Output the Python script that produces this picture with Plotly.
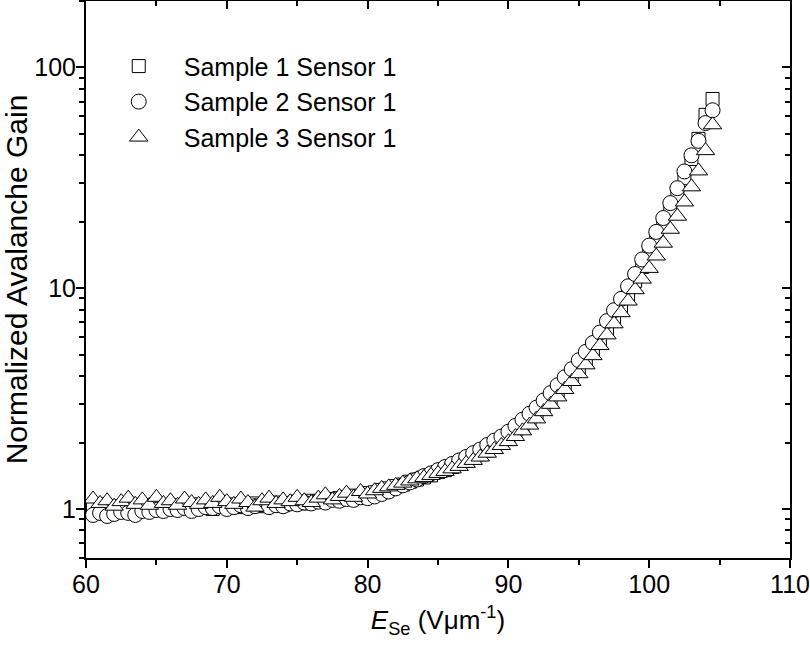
import plotly.graph_objects as go

# Electric field in a-Se (V/um)
field = [60.5, 61.0, 61.5, 62.0, 62.5, 63.0, 63.5, 64.0, 64.5, 65.0,
         65.5, 66.0, 66.5, 67.0, 67.5, 68.0, 68.5, 69.0, 69.5, 70.0,
         70.5, 71.0, 71.5, 72.0, 72.5, 73.0, 73.5, 74.0, 74.5, 75.0,
         75.5, 76.0, 76.5, 77.0, 77.5, 78.0, 78.5, 79.0, 79.5, 80.0,
         80.5, 81.0, 81.5, 82.0, 82.5, 83.0, 83.5, 84.0, 84.5, 85.0,
         85.5, 86.0, 86.5, 87.0, 87.5, 88.0, 88.5, 89.0, 89.5, 90.0,
         90.5, 91.0, 91.5, 92.0, 92.5, 93.0, 93.5, 94.0, 94.5, 95.0,
         95.5, 96.0, 96.5, 97.0, 97.5, 98.0, 98.5, 99.0, 99.5, 100.0,
         100.5, 101.0, 101.5, 102.0, 102.5, 103.0, 103.5, 104.0, 104.5]

gain_s1 = [1.02, 1.05, 0.99, 1.03, 1.00, 1.04, 1.01, 0.99, 1.03, 1.02,
           1.00, 1.04, 1.02, 1.01, 1.05, 1.02, 1.03, 1.00, 1.04, 1.03,
           1.05, 1.02, 1.04, 1.06, 1.03, 1.05, 1.07, 1.04, 1.06, 1.08,
           1.06, 1.09, 1.08, 1.11, 1.10, 1.12, 1.13, 1.15, 1.14, 1.18,
           1.19, 1.22, 1.24, 1.27, 1.29, 1.33, 1.36, 1.39, 1.42, 1.47,
           1.50, 1.55, 1.60, 1.65, 1.71, 1.77, 1.84, 1.92, 2.00, 2.08,
           2.22, 2.36, 2.50, 2.66, 2.88, 3.12, 3.38, 3.65, 3.98, 4.36,
           4.76, 5.22, 5.84, 6.55, 7.35, 8.28, 9.40, 10.8, 12.5, 14.5,
           16.8, 19.4, 22.6, 26.4, 31.5, 38.5, 47.5, 61.0, 72.0]

gain_s2 = [0.94, 0.96, 0.93, 0.95, 0.97, 0.96, 0.94, 0.98, 0.97, 0.99,
           0.98, 1.00, 0.99, 1.01, 0.98, 1.00, 1.02, 1.01, 1.03, 1.00,
           1.02, 1.04, 1.01, 1.03, 1.05, 1.02, 1.04, 1.03, 1.06, 1.05,
           1.07, 1.06, 1.08, 1.07, 1.10, 1.09, 1.11, 1.10, 1.13, 1.12,
           1.14, 1.17, 1.20, 1.24, 1.28, 1.32, 1.36, 1.41, 1.45, 1.50,
           1.55, 1.60, 1.66, 1.72, 1.79, 1.86, 1.95, 2.04, 2.13, 2.24,
           2.38, 2.54, 2.70, 2.88, 3.10, 3.35, 3.64, 3.95, 4.30, 4.72,
           5.15, 5.65, 6.30, 7.10, 7.95, 8.95, 10.2, 11.6, 13.5, 15.6,
           18.0, 20.8, 24.3, 28.4, 33.8, 40.0, 46.5, 56.0, 64.0]

gain_s3 = [1.11, 1.06, 1.09, 1.03, 1.08, 1.12, 1.05, 1.10, 1.04, 1.13,
           1.06, 1.09, 1.04, 1.11, 1.07, 1.05, 1.10, 1.06, 1.13, 1.08,
           1.05, 1.11, 1.07, 1.02, 1.09, 1.12, 1.06, 1.10, 1.08, 1.13,
           1.09, 1.07, 1.12, 1.16, 1.10, 1.14, 1.18, 1.13, 1.20, 1.17,
           1.21, 1.24, 1.26, 1.28, 1.31, 1.34, 1.37, 1.39, 1.42, 1.45,
           1.48, 1.52, 1.56, 1.61, 1.66, 1.72, 1.79, 1.86, 1.94, 2.02,
           2.13, 2.26, 2.40, 2.56, 2.76, 2.98, 3.22, 3.48, 3.78, 4.10,
           4.50, 4.95, 5.50, 6.15, 6.90, 7.75, 8.75, 9.85, 11.0, 12.3,
           14.0, 16.0, 18.5, 21.2, 24.6, 28.8, 34.0, 42.0, 55.0]

series_names = ["Sample 1 Sensor 1", "Sample 2 Sensor 1", "Sample 3 Sensor 1"]
series_gain = [gain_s1, gain_s2, gain_s3]
symbols = ["square", "circle", "triangle-up"]
sizes = [13, 15, 16]

x_ticks = [60, 70, 80, 90, 100, 110]
y_ticks = [1, 10, 100]
y_minor = [0.6, 0.7, 0.8, 0.9, 2, 3, 4, 5, 6, 7, 8, 9,
           20, 30, 40, 50, 60, 70, 80, 90, 200]

FONT = "Liberation Sans, Arial, sans-serif"

fig = go.Figure()
for name, g, sym, sz in zip(series_names, series_gain, symbols, sizes):
    fig.add_trace(go.Scatter(
        x=field, y=g, mode="markers", name=name,
        marker=dict(symbol=sym, size=sz, color="white",
                    line=dict(color="black", width=1)),
    ))

# invisible trace to carry the mirrored (inside-tick) top/right axes
fig.add_trace(go.Scatter(x=field, y=gain_s1, xaxis="x2", yaxis="y2",
                         mode="markers", marker=dict(opacity=0),
                         showlegend=False, hoverinfo="skip"))

xr = [60, 110]
yr = [-0.2218487496, 2.30103]

fig.update_layout(
    width=810, height=653,
    margin=dict(l=86, r=20, t=1, b=95),
    paper_bgcolor="white", plot_bgcolor="white",
    font=dict(family=FONT, size=25, color="black"),
    showlegend=True,
    legend=dict(x=0.011, y=0.924, xanchor="left", yanchor="top",
                bgcolor="rgba(0,0,0,0)", font=dict(size=25),
                itemwidth=80, tracegroupgap=0),
    xaxis=dict(range=xr, tickvals=x_ticks, ticks="outside", ticklen=8, tickwidth=2,
               tickcolor="black", showline=True, linecolor="black", linewidth=2,
               showgrid=False, zeroline=False, automargin=False,
               tickfont=dict(size=25), ticklabelstandoff=-5,
               minor=dict(dtick=5, tick0=60, ticks="outside", ticklen=5, tickwidth=2,
                          tickcolor="black", showgrid=False),
               title=dict(text="<i>E</i><sub>Se</sub> (Vμm<sup>-1</sup>)",
                          font=dict(size=26), standoff=14)),
    yaxis=dict(type="log", range=yr, tickvals=y_ticks, ticktext=["1", "10", "100"],
               ticks="outside", ticklen=8, tickwidth=2, tickcolor="black",
               showline=True, linecolor="black", linewidth=2,
               showgrid=False, zeroline=False, automargin=False,
               tickfont=dict(size=25), ticklabelstandoff=-5,
               minor=dict(tickvals=y_minor, ticks="outside", ticklen=5, tickwidth=2,
                          tickcolor="black", showgrid=False),
               title=dict(text="Normalized Avalanche Gain", font=dict(size=30),
                          standoff=8)),
    xaxis2=dict(range=xr, overlaying="x", side="top", anchor="y",
                tickvals=x_ticks, ticks="inside", ticklen=8, tickwidth=2,
                tickcolor="black", showticklabels=False, showline=True,
                linecolor="black", linewidth=2, showgrid=False, zeroline=False,
                automargin=False,
                minor=dict(dtick=5, tick0=60, ticks="inside", ticklen=5, tickwidth=2,
                           tickcolor="black", showgrid=False)),
    yaxis2=dict(type="log", range=yr, overlaying="y", side="right", anchor="x",
                tickvals=y_ticks, ticks="inside", ticklen=8, tickwidth=2,
                tickcolor="black", showticklabels=False, showline=True,
                linecolor="black", linewidth=2, showgrid=False, zeroline=False,
                automargin=False,
                minor=dict(tickvals=y_minor, ticks="inside", ticklen=5, tickwidth=2,
                           tickcolor="black", showgrid=False)),
)

fig.write_html("out.html", config={"displayModeBar": False},
               post_script="document.body.style.margin='0';")
